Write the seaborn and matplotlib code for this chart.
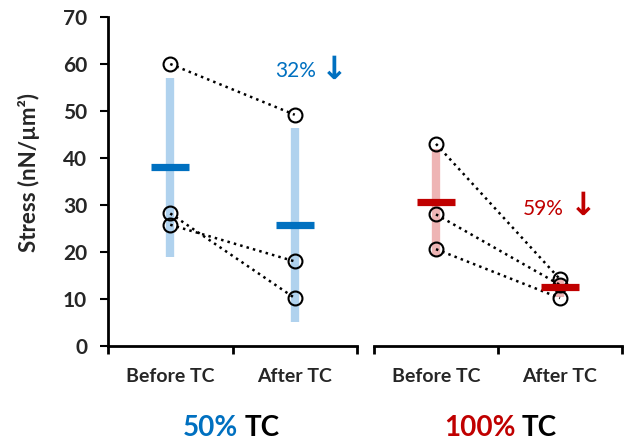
import numpy as np
import pandas as pd
import seaborn as sns
import matplotlib.pyplot as plt

# categories
TIMES = ['Before TC', 'After TC']
GROUPS = ['50%', '100%']

# stress per sample (nN/um^2), paired before -> after
tc50_before = [60.0, 28.2, 25.8]
tc50_after = [49.2, 10.2, 18.0]
tc100_before = [43.0, 28.0, 20.6]
tc100_after = [14.2, 13.0, 10.2]

# relative drop labels
DROP_LABELS = ['32%', '59%']

DARK = ['#0070C0', '#C00000']
LIGHT = ['#B0D2EE', '#EEB4B4']

rows = []
for grp, before, after in [('50%', tc50_before, tc50_after),
                           ('100%', tc100_before, tc100_after)]:
    for i, (b, a) in enumerate(zip(before, after)):
        rows.append({'group': grp, 'sample': i, 'time': TIMES[0], 'pos': 0, 'stress': b})
        rows.append({'group': grp, 'sample': i, 'time': TIMES[1], 'pos': 1, 'stress': a})
df = pd.DataFrame(rows)

sns.set_style('ticks')
plt.rcParams['font.family'] = ['Lato', 'DejaVu Sans']

fig = plt.figure(figsize=(6.28, 4.42), dpi=100)
ax_l = fig.add_axes([108 / 628, 96 / 442, 249 / 628, 329 / 442])
ax_r = fig.add_axes([374 / 628, 96 / 442, 248 / 628, 329 / 442])
axes = [ax_l, ax_r]

for ax, grp, dark, light in zip(axes, GROUPS, DARK, LIGHT):
    d = df[df['group'] == grp]
    # mean bar with +/- SD
    sns.pointplot(data=d, x='time', y='stress', order=TIMES, estimator='mean',
                  errorbar='sd', color=dark, markers='_', linestyle='none',
                  markersize=27, markeredgewidth=5.2,
                  err_kws={'color': light, 'linewidth': 6, 'zorder': 1,
                           'solid_capstyle': 'butt'},
                  ax=ax, zorder=5)
    # paired samples
    sns.lineplot(data=d, x='pos', y='stress', units='sample', estimator=None,
                 color='black', linestyle=':', linewidth=1.8, marker='o',
                 markersize=10, markerfacecolor='none', markeredgecolor='black',
                 markeredgewidth=1.5, legend=False, ax=ax, zorder=3)

    ax.set_xlim(-0.5, 1.5)
    ax.set_ylim(0, 70)
    ax.set_xlabel('')
    ax.set_ylabel('')
    ax.set_xticks([0, 1])
    ax.set_xticklabels(TIMES, fontsize=14, fontweight='bold')
    ax.set_xticks([-0.5, 0.5, 1.5], minor=True)
    ax.tick_params(axis='x', which='major', length=0, pad=16)
    ax.tick_params(axis='x', which='minor', length=6, width=2, direction='out', color='black')
    ax.spines['bottom'].set_linewidth(2)
    ax.spines['bottom'].set_color('black')
    sns.despine(ax=ax, top=True, right=True, left=(ax is ax_r))

ax_l.set_yticks(range(0, 71, 10))
ax_l.set_yticklabels([str(v) for v in range(0, 71, 10)], fontsize=15, fontweight='bold')
ax_l.tick_params(axis='y', length=6, width=1.5, direction='out', color='black', pad=9)
ax_l.spines['left'].set_linewidth(2)
ax_l.spines['left'].set_color('black')
ax_r.set_yticks([])

# drop annotations
ax_l.text(0.84, 57.2, DROP_LABELS[0], color=DARK[0], fontsize=15, ha='left', va='baseline')
ax_l.text(1.32, 58.6, '\u2193', color=DARK[0], fontsize=23, fontweight='bold',
          family='DejaVu Sans', ha='center', va='center')
ax_r.text(0.70, 27.9, DROP_LABELS[1], color=DARK[1], fontsize=15, ha='left', va='baseline')
ax_r.text(1.19, 29.6, '\u2193', color=DARK[1], fontsize=23, fontweight='bold',
          family='DejaVu Sans', ha='center', va='center')

fig.text(29 / 628, 1 - 173 / 442, 'Stress (nN/\u00b5m\u00b2)', rotation=90,
         fontsize=16, fontweight='bold', ha='center', va='center')

# group labels
for grp, dark, split in zip(GROUPS, DARK, [241.5, 518.5]):
    fig.text((split - 3) / 628, 1 / 442, grp, color=dark, fontsize=20,
             fontweight='bold', ha='right', va='bottom')
    fig.text((split + 3.5) / 628, 1 / 442, 'TC', color='black', fontsize=20,
             fontweight='bold', ha='left', va='bottom')

fig.savefig('out.png', dpi=100)
